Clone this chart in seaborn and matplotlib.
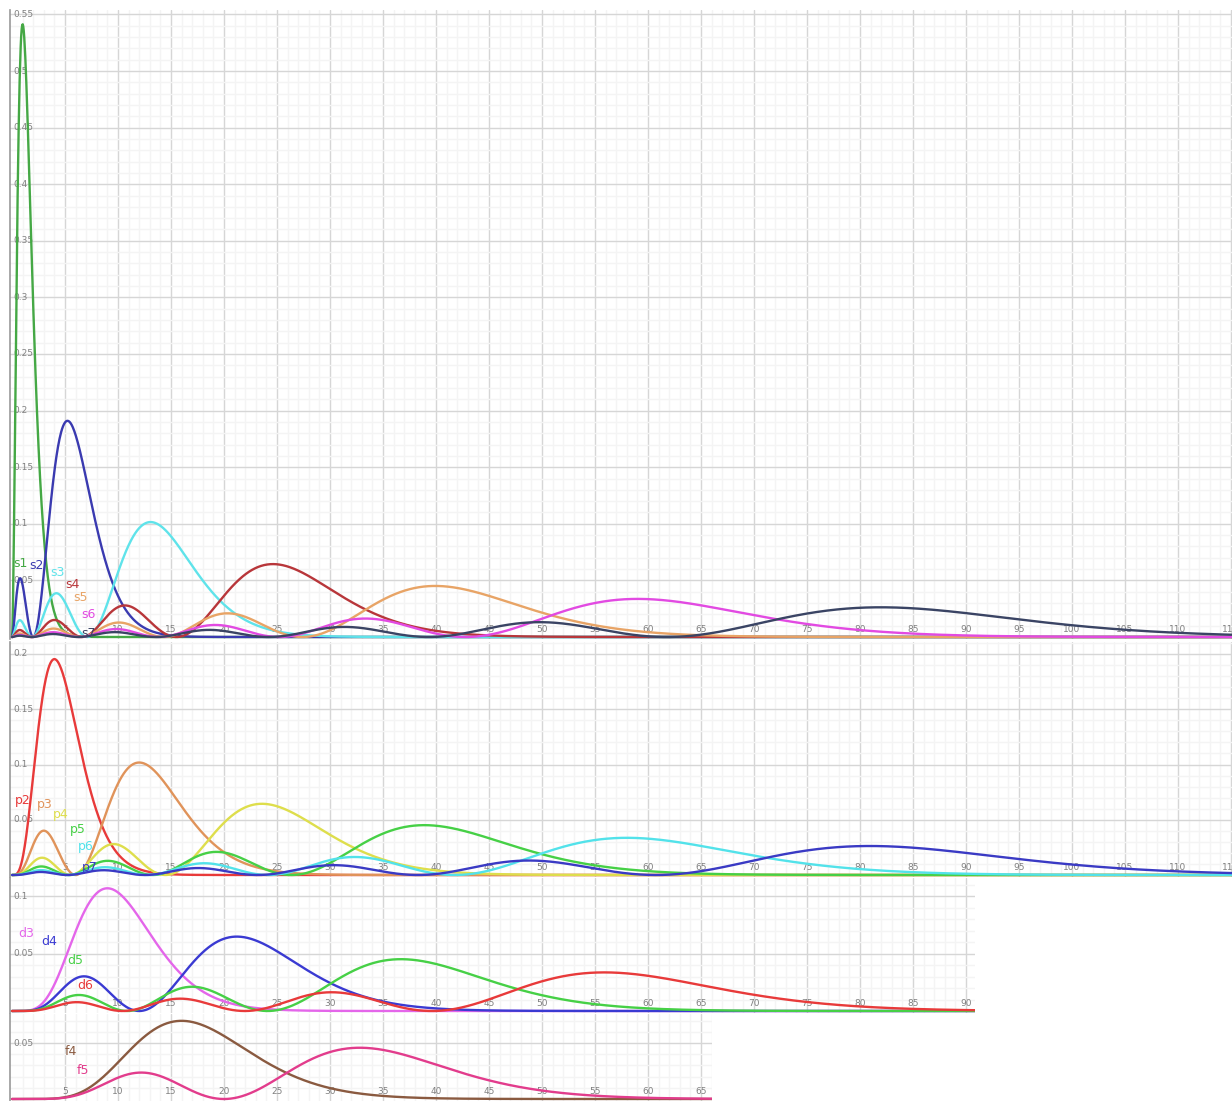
import numpy as np
import pandas as pd
import matplotlib
matplotlib.use("Agg")
import matplotlib.pyplot as plt
import seaborn as sns
from math import factorial

# Hydrogen orbitals shown in each panel: (label, n, l)
s_labels = ["s1", "s2", "s3", "s4", "s5", "s6", "s7"]
s_n = [1, 2, 3, 4, 5, 6, 7]
s_colors = ["#45a845", "#3a3ab0", "#5fe3ea", "#b8363a", "#e8a466", "#e24ae2", "#3a4464"]

p_labels = ["p2", "p3", "p4", "p5", "p6", "p7"]
p_n = [2, 3, 4, 5, 6, 7]
p_colors = ["#e83a3a", "#e0935a", "#dede4c", "#46d046", "#52e2ea", "#3a3ac4"]

d_labels = ["d3", "d4", "d5", "d6"]
d_n = [3, 4, 5, 6]
d_colors = ["#e466ea", "#3a3ad2", "#46d046", "#e83a3a"]

f_labels = ["f4", "f5"]
f_n = [4, 5]
f_colors = ["#8a5a40", "#e23c8c"]

# label anchor positions (r in bohr, probability density)
s_label_x = [0.1, 1.6, 3.6, 5.0, 5.8, 6.5, 6.5]
s_label_y = [0.065, 0.0635, 0.057, 0.046, 0.0345, 0.0195, 0.0035]
p_label_x = [0.3, 2.3, 3.9, 5.5, 6.2, 6.6]
p_label_y = [0.067, 0.064, 0.055, 0.041, 0.026, 0.007]
d_label_x = [0.6, 2.8, 5.2, 6.2]
d_label_y = [0.0675, 0.0605, 0.044, 0.022]
f_label_x = [5.0, 6.1]
f_label_y = [0.042, 0.025]


def assoc_laguerre(k, a, x):
    """Generalised Laguerre polynomial L_k^a(x) by recurrence."""
    if k == 0:
        return np.ones_like(x)
    prev = np.ones_like(x)
    cur = 1.0 + a - x
    for j in range(1, k):
        prev, cur = cur, ((2 * j + 1 + a - x) * cur - (j + a) * prev) / (j + 1)
    return cur


def radial_density(n, l, r):
    """Radial probability density r^2 |R_nl(r)|^2 in atomic units."""
    rho = 2.0 * r / n
    norm = np.sqrt((2.0 / n) ** 3 * factorial(n - l - 1) / (2.0 * n * factorial(n + l)))
    R = norm * np.exp(-rho / 2.0) * rho ** l * assoc_laguerre(n - l - 1, 2 * l + 1, rho)
    return r ** 2 * R ** 2


W, H = 1232, 1101
fig = plt.figure(figsize=(W / 100, H / 100), dpi=100)
sns.set_style("white")


def px_axes(left, top, right, bottom):
    return fig.add_axes([left / W, 1 - bottom / H, (right - left) / W, (bottom - top) / H])


x_per_px = 1 / 10.6
panels = [
    # (labels, n list, l, colors, label x, label y, pixel box, span above zero, px per unit y, y ticks, last x tick)
    (s_labels, s_n, 0, s_colors, s_label_x, s_label_y, (10, 10, 1232, 639), 0.637 - 0.010, 1132.0,
     [0.05, 0.1, 0.15, 0.2, 0.25, 0.3, 0.35, 0.4, 0.45, 0.5, 0.55], 115),
    (p_labels, p_n, 1, p_colors, p_label_x, p_label_y, (10, 642, 1232, 877), 0.875 - 0.642, 1105.0,
     [0.05, 0.1, 0.15, 0.2], 115),
    (d_labels, d_n, 2, d_colors, d_label_x, d_label_y, (10, 878, 975, 1013), 1.011 - 0.878, 1146.0,
     [0.05, 0.1], 90),
    (f_labels, f_n, 3, f_colors, f_label_x, f_label_y, (10, 1014, 712, 1101), 1.099 - 1.014, 1120.0,
     [0.05], 65),
]

for labels, ns, l, colors, lx, ly, box, top_span, ppu, yticks, xmax_tick in panels:
    left, top, right, bottom = box
    ax = px_axes(left, top, right, bottom)
    xmin = -2 * x_per_px
    xmax = (right - 12) * x_per_px
    ymax = top_span * 1000 / ppu
    ymin = -(bottom - top - top_span * 1000) / ppu

    r = np.linspace(0, xmax + 0.5, 2400)
    frames = []
    for lab, n in zip(labels, ns):
        frames.append(pd.DataFrame({"r": r, "P": radial_density(n, l, r), "orbital": lab}))
    df = pd.concat(frames, ignore_index=True)

    ax.set_xlim(xmin, xmax)
    ax.set_ylim(ymin, ymax)

    # grid: faint minor lines every 1 bohr / 0.01, darker major every 5 / 0.05
    for v in np.arange(1, xmax + 1, 1):
        major = abs(v / 5 - round(v / 5)) < 1e-9
        ax.axvline(v, color="#d6d6d6" if major else "#f4f4f4", lw=1.0, zorder=0)
    for v in np.arange(0.01, ymax, 0.01):
        major = abs(v / 0.05 - round(v / 0.05)) < 1e-6
        ax.axhline(v, color="#d6d6d6" if major else "#f4f4f4", lw=1.0, zorder=0)

    sns.lineplot(data=df, x="r", y="P", hue="orbital", palette=dict(zip(labels, colors)),
                 hue_order=labels, lw=1.7, legend=False, ax=ax, sort=False, zorder=3)

    # tick labels drawn inside the plotting area
    for yv in yticks:
        ax.text(0.15, yv, f"{yv:g}", ha="left", va="center", fontsize=6.5, color="#808080", zorder=2)
    for xv in range(5, xmax_tick + 1, 5):
        ax.annotate(f"{xv}", xy=(xv, 0), xytext=(0, 2.5), textcoords="offset points",
                    ha="center", va="bottom", fontsize=6.5, color="#808080", zorder=2)

    for lab, c, x, y in zip(labels, colors, lx, ly):
        ax.text(x, y, lab, color=c, fontsize=9, ha="left", va="center", zorder=4)

    ax.set_xticks([])
    ax.set_yticks([])
    ax.set_xlabel("")
    ax.set_ylabel("")
    for side in ("top", "right", "bottom"):
        ax.spines[side].set_visible(False)
    ax.spines["left"].set_color("#999999")
    ax.spines["left"].set_linewidth(1.2)
    ax.set_facecolor("white")

fig.savefig("out.png", dpi=100)
